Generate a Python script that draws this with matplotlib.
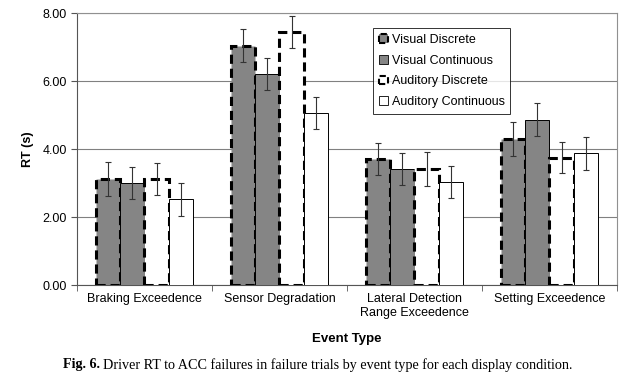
import matplotlib
matplotlib.use("Agg")
import matplotlib.pyplot as plt
import numpy as np
from matplotlib.patches import Patch

categories = ["Braking Exceedence", "Sensor Degradation",
              "Lateral Detection\nRange Exceedence", "Setting Exceedence"]
series = ["Visual Discrete", "Visual Continuous", "Auditory Discrete", "Auditory Continuous"]
values = {
    "Visual Discrete":     [3.12, 7.04, 3.72, 4.28],
    "Visual Continuous":   [3.00, 6.21, 3.41, 4.86],
    "Auditory Discrete":   [3.12, 7.44, 3.42, 3.75],
    "Auditory Continuous": [2.52, 5.06, 3.04, 3.87],
}
errors = {
    "Visual Discrete":     [0.49, 0.48, 0.47, 0.50],
    "Visual Continuous":   [0.47, 0.47, 0.47, 0.49],
    "Auditory Discrete":   [0.47, 0.46, 0.50, 0.47],
    "Auditory Continuous": [0.48, 0.47, 0.47, 0.48],
}
yticks = [0, 2, 4, 6, 8]

styles = {
    "Visual Discrete":     dict(facecolor="#858585", edgecolor="black", linestyle=(0, (3, 1.6)), linewidth=2.2),
    "Visual Continuous":   dict(facecolor="#858585", edgecolor="black", linestyle="-", linewidth=0.7),
    "Auditory Discrete":   dict(facecolor="white", edgecolor="black", linestyle=(0, (3, 1.6)), linewidth=2.2),
    "Auditory Continuous": dict(facecolor="white", edgecolor="black", linestyle="-", linewidth=0.7),
}

plt.rcParams['font.family'] = ['Liberation Sans', 'DejaVu Sans']
fig = plt.figure(figsize=(6.39, 3.75), dpi=100)
ax = fig.add_axes([0.1205, 0.24, 0.845, 0.7253])

x = np.arange(len(categories))
w = 0.181
for i, s in enumerate(series):
    pos = x + (i - 1.5) * w
    ax.bar(pos, values[s], width=w, zorder=3, **styles[s])
    ax.errorbar(pos, values[s], yerr=errors[s], fmt='none', ecolor="#333333",
                elinewidth=0.8, capsize=2.5, capthick=0.8, zorder=4)

ax.set_xlim(-0.5, len(categories) - 0.5)
ax.set_ylim(0, 8)
ax.set_yticks(yticks)
ax.set_yticklabels([f"{v:.2f}" for v in yticks], fontsize=9)
ax.yaxis.grid(True, color="#808080", linewidth=0.8, zorder=0)
ax.set_axisbelow(True)

ax.set_xticks(x)
ax.set_xticklabels(categories, fontsize=9)
ax.tick_params(axis='x', length=0, pad=6)
ax.set_xticks(np.arange(-0.5, len(categories)), minor=True)
ax.tick_params(axis='x', which='minor', length=4, direction='out', color='#555555')
ax.tick_params(axis='y', length=4, direction='out', color='#555555')

for sp in ["top", "right"]:
    ax.spines[sp].set_color("#909090")
    ax.spines[sp].set_linewidth(0.8)
ax.spines["left"].set_color("#555555")
ax.spines["bottom"].set_color("#555555")

ax.set_ylabel("RT (s)", fontsize=9, fontweight='bold', labelpad=6)
ax.set_xlabel("Event Type", fontsize=9.5, fontweight='bold', labelpad=10)

handles = [Patch(facecolor=styles[s]["facecolor"], edgecolor="black",
                 linestyle=styles[s]["linestyle"] if "Discrete" in s else "-",
                 linewidth=1.5 if "Discrete" in s else 0.6) for s in series]
leg = ax.legend(handles, series, loc="upper left", bbox_to_anchor=(0.549, 0.944),
                fontsize=9, frameon=True, fancybox=False, edgecolor="black",
                handlelength=0.7, handleheight=0.7, handletextpad=0.3,
                borderpad=0.45, labelspacing=0.7, borderaxespad=0)
leg.get_frame().set_linewidth(0.7)

serif = ['Liberation Serif', 'DejaVu Serif']
t1 = fig.text(63 / 639, 0.027, "Fig. 6.", ha='left', va='center', fontsize=10.2,
              fontweight='bold', family=serif)
fig.canvas.draw()
bb = t1.get_window_extent(renderer=fig.canvas.get_renderer())
x2 = (bb.x1 + 3) / fig.bbox.width
fig.text(x2, 0.027, "Driver RT to ACC failures in failure trials by event type for each display condition.",
         ha='left', va='center', fontsize=10.2, family=serif)

fig.savefig("out.png", dpi=100)
